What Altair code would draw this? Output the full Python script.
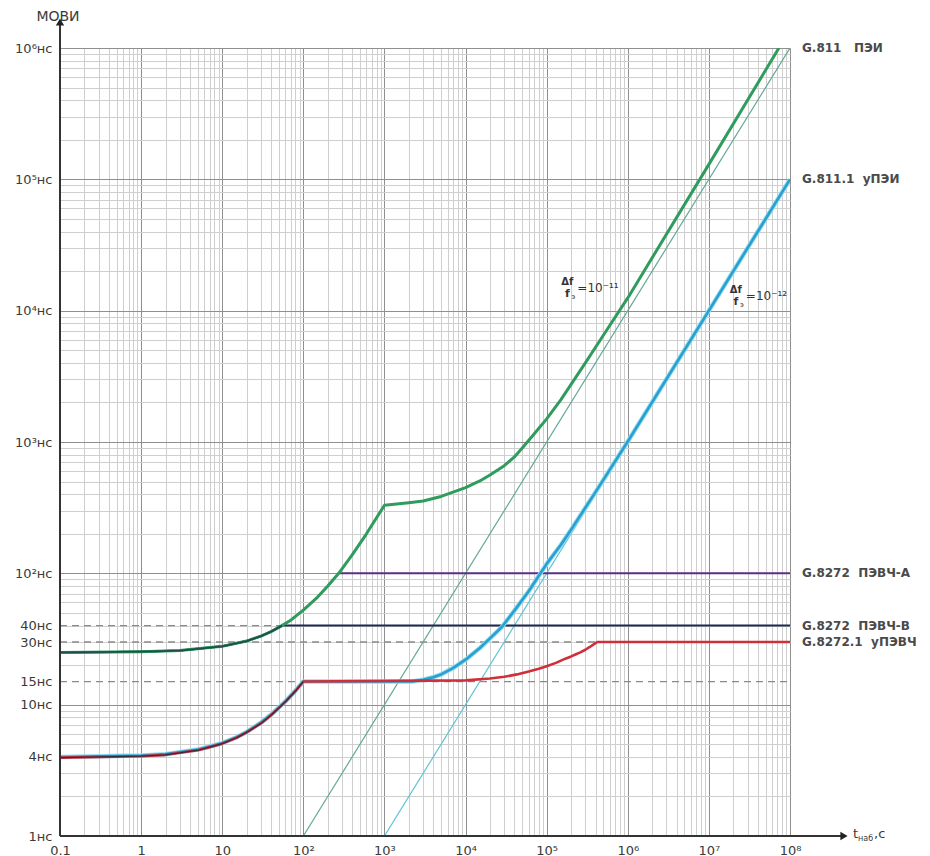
import altair as alt
import pandas as pd

# ---------------- data ----------------
green_x = [0.1, 1, 3, 10, 20, 30, 40, 54.5, 70, 100, 150, 200, 273, 400, 600, 1000, 2000, 3000, 5000, 7000,
           1e4, 1.5e4, 2e4, 3e4, 4e4, 5e4, 7e4, 1e5, 1.5e5, 2e5, 3e5, 5e5, 1e6, 1e7, 7.3e7]
green_y = [25, 25.3, 25.8, 27.8, 30.5, 33.3, 36, 40, 44, 52.5, 66, 80, 100, 138, 200, 330, 345, 355, 385, 415,
           450, 505, 560, 660, 770, 900, 1150, 1500, 2100, 2750, 4000, 6500, 1.25e4, 1.3e5, 1e6]

purple_x = [0.1, 1, 3, 10, 20, 30, 40, 54.5, 70, 100, 150, 200, 273, 1e8]
purple_y = [25, 25.3, 25.8, 27.8, 30.5, 33.3, 36, 40, 44, 52.5, 66, 80, 100, 100]

navy_x = [0.1, 1, 3, 10, 20, 30, 40, 54.5, 1e8]
navy_y = [25, 25.3, 25.8, 27.8, 30.5, 33.3, 36, 40, 40]

blue_x = [0.1, 1, 2, 3, 5, 7, 10, 15, 20, 30, 40, 60, 80, 100, 2200, 3000, 4000, 5000, 7000, 1e4, 1.5e4,
          2e4, 2.8e4, 4e4, 6e4, 8.2e4, 1e5, 1.5e5, 2e5, 4e5, 1e6, 1e7, 1e8]
blue_y = [4, 4.1, 4.2, 4.35, 4.55, 4.8, 5.1, 5.65, 6.2, 7.3, 8.4, 10.6, 12.8, 15, 15, 15.5, 16.2, 17, 19, 22,
          27, 32, 39, 52, 73, 98, 118, 165, 215, 415, 1010, 1e4, 1e5]

red_x = [0.1, 1, 2, 3, 5, 7, 10, 15, 20, 30, 40, 60, 80, 100, 1e4, 2e4, 3e4, 4.3e4, 6e4, 8e4, 1e5, 1.3e5,
         1.7e5, 2e5, 2.3e5, 2.6e5, 3e5, 3.4e5, 3.8e5, 4.2e5, 1e8]
red_y = [3.95, 4.05, 4.15, 4.3, 4.5, 4.75, 5.05, 5.6, 6.15, 7.2, 8.3, 10.5, 12.7, 15, 15.3, 15.8, 16.3, 17,
         17.9, 18.8, 19.6, 20.8, 22.4, 23.3, 24.2, 25, 26.2, 27.5, 28.8, 30, 30]

thin11_x = [1e2, 1e8]
thin11_y = [1, 1e6]
thin12_x = [1e3, 1e8]
thin12_y = [1, 1e5]

dash_y = [40, 30, 15]
dash_end = [54.5, 4.2e5, 1e8]

x_major = [0.1, 1, 10, 100, 1000, 1e4, 1e5, 1e6, 1e7, 1e8]
x_labels = ["0.1", "1", "10", "10²", "10³", "10⁴", "10⁵", "10⁶", "10⁷", "10⁸"]
y_major = [1, 10, 100, 1000, 1e4, 1e5, 1e6]
y_tick_vals = [1, 4, 10, 15, 30, 40, 100, 1000, 1e4, 1e5, 1e6]
y_tick_labels = ["1нс", "4нс", "10нс", "15нс", "30нс", "40нс", "10²нс", "10³нс", "10⁴нс", "10⁵нс", "10⁶нс"]

right_labels = ["G.811\u00a0\u00a0\u00a0ПЭИ", "G.811.1\u00a0\u00a0уПЭИ", "G.8272\u00a0\u00a0ПЭВЧ-А",
                "G.8272\u00a0\u00a0ПЭВЧ-В", "G.8272.1\u00a0\u00a0уПЭВЧ"]
right_y = [1e6, 1e5, 100, 40, 30]

ann_x = [1.8e5, 2.15e7]
ann_y = [1.5e4, 1.3e4]
ann_exp = ["=10⁻¹¹", "=10⁻¹²"]

# ---------------- layout ----------------
W, H = 730, 788
FONT = "DejaVu Sans"
TXT = "#3a3a3a"

x_grid = [k * 10.0 ** d for d in range(-1, 8) for k in range(1, 10)] + [1e8]
y_grid = [k * 10.0 ** d for d in range(0, 6) for k in range(1, 10)] + [1e6, 15]


def lab_expr(vals, labs):
    s = ""
    for v, l in zip(vals, labs):
        s += f"abs(datum.value-{v})<{v}*1e-6?'{l}':"
    return s + "''"


def in_list(vals):
    return " || ".join(f"abs(datum.value-{v})<{v}*1e-6" for v in vals)


xs = alt.Scale(type="log", domain=[0.1, 1e8], nice=False)
ys = alt.Scale(type="log", domain=[1, 1e6], nice=False)

x_axis = alt.Axis(values=x_grid, grid=True, ticks=False, domain=False, title=None,
                  labelExpr=lab_expr(x_major, x_labels), labelOverlap=False, labelFlush=False,
                  labelFont=FONT, labelFontSize=13, labelColor=TXT, labelPadding=8,
                  gridColor={"condition": {"test": in_list(x_major), "value": "#8f8f8f"}, "value": "#cfcfcf"},
                  gridWidth=1)
y_axis = alt.Axis(values=y_grid, grid=True, ticks=False, domain=False, title=None,
                  labelExpr=lab_expr(y_tick_vals, y_tick_labels), labelOverlap=False, labelFlush=False,
                  labelFont=FONT, labelFontSize=13, labelColor=TXT, labelPadding=8,
                  gridColor={"condition": {"test": in_list(y_major), "value": "#8f8f8f"}, "value": "#cfcfcf"},
                  gridOpacity={"condition": {"test": "abs(datum.value-15)<0.001", "value": 0}, "value": 1},
                  gridWidth=1)

X = alt.X("x:Q", scale=xs, axis=x_axis)
Y = alt.Y("y:Q", scale=ys, axis=y_axis)


def df(xv, yv):
    return pd.DataFrame({"x": xv, "y": yv, "i": list(range(len(xv)))})


def line(xv, yv, color, width):
    return alt.Chart(df(xv, yv)).mark_line(color=color, strokeWidth=width, clip=True,
                                           strokeJoin="round").encode(x=X, y=Y, order="i:Q")


dash_df = pd.DataFrame({"x": [0.1] * 3, "x2": dash_end, "y": dash_y})
dashes = alt.Chart(dash_df).mark_rule(color="#8a8a8a", strokeWidth=1.3, strokeDash=[7, 5]).encode(
    x=X, x2="x2:Q", y=Y)

layers = [
    dashes,
    line(thin11_x, thin11_y, "#63a893", 1.2),
    line(thin12_x, thin12_y, "#5fc3d3", 1.2),
    line(purple_x, purple_y, "#5b2f86", 2),
    line(navy_x, navy_y, "#1d2b50", 2),
    line(green_x, green_y, "#2f9c5e", 3),
    line(navy_x[:8], navy_y[:8], "#1f4f4c", 1.8),
    line(blue_x, blue_y, "#8fdcef", 4.5),
    line(blue_x, blue_y, "#2a9fd0", 2.6),
    line(red_x, red_y, "#cf2f3a", 2.6),
    line(red_x[:14], red_y[:14], "#3a2a40", 1.2),
]

# right side labels
rl = pd.DataFrame({"label": right_labels, "y": right_y})
layers.append(alt.Chart(rl).mark_text(align="left", baseline="middle", font=FONT, fontSize=12,
                                      color="#4a4a4a", fontWeight="bold").encode(
    x=alt.value(W + 12), y=Y, text="label:N"))

# frequency-offset annotations
ann = pd.DataFrame({"x": ann_x, "y": ann_y, "exp": ann_exp})
base_ann = alt.Chart(ann)
layers += [
    base_ann.mark_text(text="Δf", font=FONT, fontSize=10, fontWeight="bold", color="#333", dy=-6,
                       align="center").encode(x=X, y=Y),
    base_ann.mark_text(text="f", font=FONT, fontSize=11, fontWeight="bold", color="#333", dy=6,
                       align="center").encode(x=X, y=Y),
    base_ann.mark_text(text="э", font=FONT, fontSize=7, color="#333", dy=9, dx=6,
                       align="center").encode(x=X, y=Y),
    base_ann.mark_text(font=FONT, fontSize=12, color="#333", dx=10, align="left").encode(
        x=X, y=Y, text="exp:N"),
]

one = pd.DataFrame({"a": [0]})
layers += [
    alt.Chart(one).mark_rule(color="#333", strokeWidth=2).encode(
        x=alt.value(0), y=alt.value(-24), y2=alt.value(H)),
    alt.Chart(one).mark_rule(color="#333", strokeWidth=2).encode(
        x=alt.value(0), x2=alt.value(W + 52), y=alt.value(H)),
    alt.Chart(one).mark_point(shape="triangle-up", filled=True, size=70, color="#222", opacity=1).encode(
        x=alt.value(0), y=alt.value(-26)),
    alt.Chart(one).mark_point(shape="triangle-right", filled=True, size=70, color="#222", opacity=1).encode(
        x=alt.value(W + 54), y=alt.value(H)),
    alt.Chart(one).mark_text(text="МОВИ", font=FONT, fontSize=14, color=TXT, align="center",
                             baseline="middle").encode(x=alt.value(-2), y=alt.value(-31)),
    alt.Chart(one).mark_text(text="t", font=FONT, fontSize=13, color=TXT, align="left").encode(
        x=alt.value(W + 63), y=alt.value(H - 2)),
    alt.Chart(one).mark_text(text="наб", font=FONT, fontSize=8, color=TXT, align="left").encode(
        x=alt.value(W + 68), y=alt.value(H + 3)),
    alt.Chart(one).mark_text(text=",с", font=FONT, fontSize=13, color=TXT, align="left").encode(
        x=alt.value(W + 84), y=alt.value(H - 2)),
]

chart = alt.layer(*layers).properties(
    width=W, height=H,
    autosize=alt.AutoSizeParams(type="none"),
    padding={"left": 52, "top": 40, "right": 130, "bottom": 20},
    background="white",
).configure_view(stroke=None)

chart.save("out.html", embed_options={"renderer": "svg", "actions": False})
